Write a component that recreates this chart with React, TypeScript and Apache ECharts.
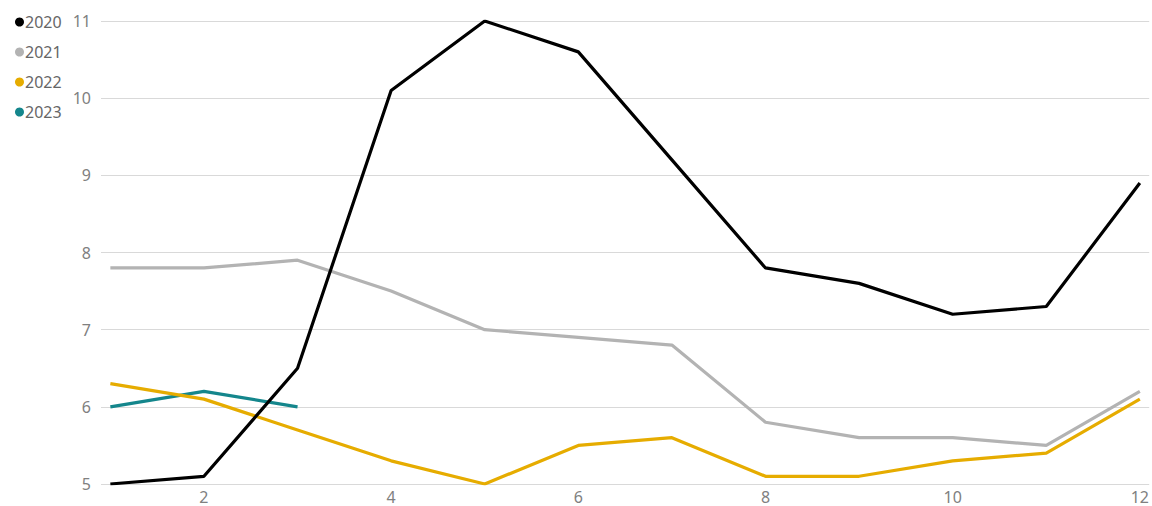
import React, { useEffect, useRef } from "react";
import * as echarts from "echarts";

const months = [1, 2, 3, 4, 5, 6, 7, 8, 9, 10, 11, 12];
const s2020 = [5.0, 5.1, 6.5, 10.1, 11.0, 10.6, 9.2, 7.8, 7.6, 7.2, 7.3, 8.9];
const s2021 = [7.8, 7.8, 7.9, 7.5, 7.0, 6.9, 6.8, 5.8, 5.6, 5.6, 5.5, 6.2];
const s2022 = [6.3, 6.1, 5.7, 5.3, 5.0, 5.5, 5.6, 5.1, 5.1, 5.3, 5.4, 6.1];
const s2023 = [6.0, 6.2, 6.0];
const xTickLabels = [2, 4, 6, 8, 10, 12];
const seriesNames = ["2020", "2021", "2022", "2023"];
const colors = ["#000000", "#b3b3b3", "#e6ac00", "#14868c"];

export default function App() {
  const ref = useRef<HTMLDivElement>(null);
  useEffect(() => {
    if (!ref.current) return;
    const chart = echarts.init(ref.current, undefined, { renderer: "svg" });
    const all = [s2020, s2021, s2022, s2023];
    chart.setOption({
      animation: false,
      textStyle: { fontFamily: "Noto Sans" },
      legend: {
        orient: "vertical",
        left: 10,
        top: 6,
        itemGap: 8,
        itemWidth: 9,
        itemHeight: 9,
        icon: "circle",
        textStyle: { color: "#666666", fontSize: 16, padding: [0, 0, 0, -4], lineHeight: 22 },
        data: seriesNames,
      },
      grid: { left: 101, right: 2, top: 21, bottom: 22, containLabel: false },
      xAxis: {
        type: "value",
        min: 0.9,
        max: 12.1,
        axisLine: { show: false },
        axisTick: { show: false },
        splitLine: { show: false },
        axisLabel: {
          customValues: xTickLabels,
          color: "#808080",
          fontSize: 16,
          lineHeight: 17,
          margin: 4,
        },
      },
      yAxis: {
        type: "value",
        min: 5,
        max: 11,
        interval: 1,
        axisLine: { show: false },
        axisTick: { show: false },
        splitLine: { lineStyle: { color: "#d9d9d9", width: 1 } },
        axisLabel: { color: "#808080", fontSize: 16, margin: 10 },
      },
      series: all.map((arr, i) => ({
        name: seriesNames[i],
        type: "line",
        data: arr.map((v, j) => [months[j], v]),
        showSymbol: false,
        symbol: "circle",
        lineStyle: { color: colors[i], width: 3.2 },
        itemStyle: { color: colors[i] },
        z: 10 - i,
      })),
    });
    return () => chart.dispose();
  }, []);
  return (
    <div
      ref={ref}
      style={{ position: "absolute", left: 0, top: 0, width: 1152, height: 506 }}
    />
  );
}
